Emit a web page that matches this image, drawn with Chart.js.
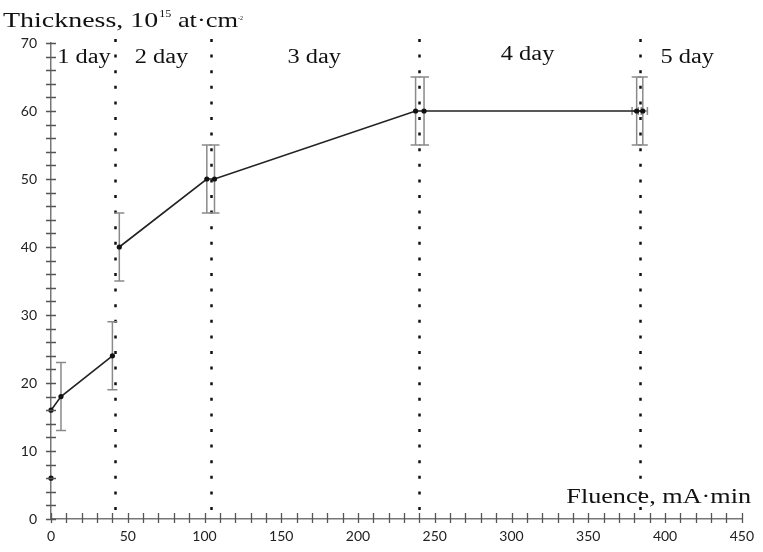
<!DOCTYPE html>
<html>
<head>
<meta charset="utf-8">
<script src="https://cdn.jsdelivr.net/npm/chart.js@4/dist/chart.umd.min.js"></script>
<style>
    html, body { margin: 0; padding: 0; background: #fff; }
    #grafica { width: 763px; height: 552px; }
</style>
</head>
<body>
<div id="grafica"><canvas id="myChart" width="763" height="552"></canvas></div>
<script>
// first run (day 1), second run (days 2-5), lone point at zero
const fluence_a = [0, 6.5, 40]
const thick_a = [16, 18, 24]
const err_a = [0, 5, 5]

const fluence_b = [44.5, 101.5, 106.5, 237.5, 243, 381.5, 385.5]
const thick_b = [40, 50, 50, 60, 60, 60, 60]
const err_b = [5, 5, 5, 5, 5, 5, 5]
const xerr_b = [0, 0, 0, 0, 0, 3, 3]

const fluence_c = [0]
const thick_c = [6]

// day boundaries and day captions
const day_bounds = [42, 104, 240, 383.5]
const day_names = ["1 day", "2 day", "3 day", "4 day", "5 day"]
const day_label_x = [4, 54.5, 154, 293, 397]
const day_label_y = [67, 67, 67, 67.5, 67]

const x_min = 0, x_max = 450, x_step = 50, x_minor = 10
const y_min = 0, y_max = 70, y_step = 10, y_minor = 2

const toPoints = (xs, ys) => xs.map((v, i) => ({ x: v, y: ys[i] }))

function stretchText(ctx, str, px, py, size, sx, align) {
    ctx.save()
    ctx.font = size + 'px "Liberation Serif", "Times New Roman", serif'
    ctx.textBaseline = "alphabetic"
    let w = ctx.measureText(str).width * sx
    let left = align === "right" ? px - w : px
    ctx.scale(sx, 1)
    ctx.fillText(str, left / sx, py)
    ctx.restore()
    return left + w
}

const extras = {
    id: "extras",
    beforeDatasetsDraw(chart) {
        const { ctx, scales: { x, y } } = chart
        ctx.save()
        // dotted day lines
        ctx.strokeStyle = "#111"
        ctx.lineWidth = 2.5
        ctx.setLineDash([3, 12.6])
        for (const b of day_bounds) {
            let px = Math.round(x.getPixelForValue(b)) + 0.5
            ctx.beginPath()
            ctx.moveTo(px, y.getPixelForValue(y_max) - 4)
            ctx.lineTo(px, y.getPixelForValue(0))
            ctx.stroke()
        }
        ctx.setLineDash([])
        // error bars
        ctx.strokeStyle = "#8a8a8a"
        ctx.lineWidth = 1.5
        const cap = 5
        const bars = [[fluence_a, thick_a, err_a, null], [fluence_b, thick_b, err_b, xerr_b]]
        for (const [xs, ys, es, xes] of bars) {
            xs.forEach((xv, i) => {
                let px = x.getPixelForValue(xv)
                if (es[i] > 0) {
                    let top = y.getPixelForValue(ys[i] + es[i])
                    let bot = y.getPixelForValue(ys[i] - es[i])
                    ctx.beginPath()
                    ctx.moveTo(px, top); ctx.lineTo(px, bot)
                    ctx.moveTo(px - cap, top); ctx.lineTo(px + cap, top)
                    ctx.moveTo(px - cap, bot); ctx.lineTo(px + cap, bot)
                    ctx.stroke()
                }
                if (xes && xes[i] > 0) {
                    let py = y.getPixelForValue(ys[i])
                    let l = x.getPixelForValue(xv - xes[i])
                    let r = x.getPixelForValue(xv + xes[i])
                    ctx.beginPath()
                    ctx.moveTo(l, py); ctx.lineTo(r, py)
                    ctx.moveTo(l, py - 4); ctx.lineTo(l, py + 4)
                    ctx.moveTo(r, py - 4); ctx.lineTo(r, py + 4)
                    ctx.stroke()
                }
            })
        }
        ctx.restore()
    },
    afterDraw(chart) {
        const { ctx, chartArea, scales: { x, y } } = chart
        ctx.save()
        // crossing ticks
        ctx.strokeStyle = "#555"
        ctx.lineWidth = 1.3
        ctx.beginPath()
        for (let v = x_min; v <= x_max; v += x_minor) {
            let px = Math.round(x.getPixelForValue(v)) + 0.5
            ctx.moveTo(px, chartArea.bottom - 6)
            ctx.lineTo(px, chartArea.bottom + 4)
        }
        for (let v = y_min; v <= y_max; v += y_minor) {
            let py = Math.round(y.getPixelForValue(v)) + 0.5
            ctx.moveTo(chartArea.left - 5, py)
            ctx.lineTo(chartArea.left + 5, py)
        }
        ctx.stroke()

        ctx.fillStyle = "#111"
        // y title
        let end = stretchText(ctx, "Thickness, 10", 3, 27, 22, 1.27)
        end = stretchText(ctx, "15", end + 1, 17, 11, 1.1)
        end = stretchText(ctx, " at·cm", end, 27, 22, 1.2)
        stretchText(ctx, "-2", end, 20, 6, 1.0)
        // x title
        stretchText(ctx, "Fluence, mA·min", 751, 503, 22, 1.19, "right")
        // day captions
        day_names.forEach((name, i) => {
            stretchText(ctx, name, x.getPixelForValue(day_label_x[i]), y.getPixelForValue(day_label_y[i]), 20, 1.22)
        })
        ctx.restore()
    }
}

const pointStyle = {
    showLine: true,
    clip: false,
    borderColor: "#222",
    borderWidth: 1.6,
    pointRadius: 2.6,
    pointBackgroundColor: "#111",
    pointBorderColor: "#111",
    pointBorderWidth: 0
}

const data = {
    datasets: [
        { label: "run 1", data: toPoints(fluence_a, thick_a), ...pointStyle },
        { label: "run 2", data: toPoints(fluence_b, thick_b), ...pointStyle },
        { label: "zero", data: toPoints(fluence_c, thick_c), ...pointStyle, showLine: false }
    ]
}

const tickFont = { family: "Lato", size: 14 }

const config = {
    type: "scatter",
    data,
    options: {
        responsive: false,
        animation: false,
        devicePixelRatio: 1,
        layout: { padding: { top: 43, right: 14, left: 0, bottom: 0 } },
        plugins: { legend: { display: false }, tooltip: { enabled: false } },
        scales: {
            x: {
                type: "linear",
                min: x_min, max: x_max,
                afterFit: (s) => { s.height = 33 },
                grid: { display: false, drawTicks: false },
                border: { display: true, color: "#777", width: 1.5 },
                ticks: { stepSize: x_step, padding: 9, color: "#222", font: tickFont, maxRotation: 0, autoSkip: false }
            },
            y: {
                type: "linear",
                min: y_min, max: y_max,
                afterFit: (s) => { s.width = 51 },
                grid: { display: false, drawTicks: false },
                border: { display: true, color: "#777", width: 1.5 },
                ticks: { stepSize: y_step, padding: 14, color: "#222", font: tickFont }
            }
        }
    },
    plugins: [extras]
}

const myChart = document.getElementById("myChart")
let chart = new Chart(myChart, config)
</script>
</body>
</html>
